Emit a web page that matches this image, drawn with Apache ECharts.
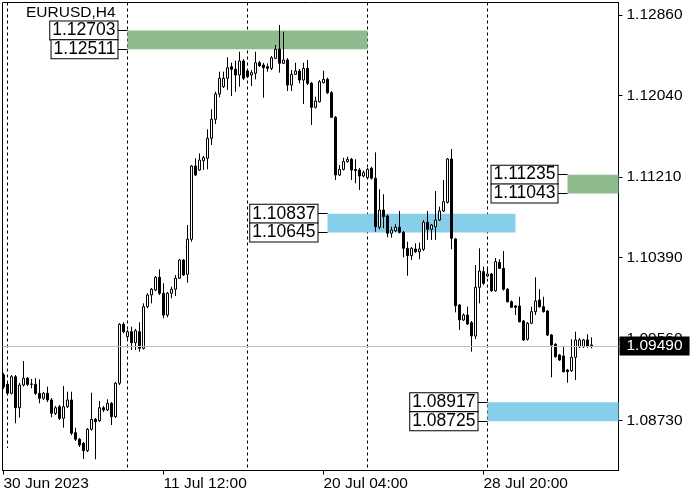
<!DOCTYPE html>
<html><head><meta charset="utf-8">
<script src="https://cdn.jsdelivr.net/npm/echarts@6/dist/echarts.min.js"></script>
<style>html,body{margin:0;padding:0;background:#fff}#c{width:700px;height:500px}</style>
</head><body><div id="c"></div>
<script>
// ---- data (EURUSD H4) ----
const openP = [1.09195,1.09100,1.09009,1.09178,1.08862,1.09093,1.09162,1.09100,1.09100,1.09009,
1.08958,1.09009,1.08941,1.08805,1.08872,1.08754,1.08872,1.08941,1.08608,1.08541,
1.08500,1.08425,1.08642,1.08744,1.08730,1.08862,1.08839,1.08907,1.08771,1.09111,
1.09711,1.09585,1.09636,1.09524,1.09636,1.09467,1.09890,1.10010,1.10060,1.10190,
1.10027,1.09806,1.10027,1.10068,1.10180,1.10366,1.10220,1.10577,1.11323,1.11282,
1.11377,1.11401,1.11605,1.11798,1.12056,1.12130,1.12216,1.12334,1.12307,1.12249,
1.12392,1.12290,1.12249,1.12267,1.12374,1.12351,1.12334,1.12317,1.12419,1.12514,
1.12368,1.12402,1.12147,1.12256,1.12290,1.12198,1.12317,1.12165,1.11920,1.11977,
1.12171,1.12205,1.12069,1.11819,1.11231,1.11289,1.11367,1.11391,1.11287,1.11282,
1.11221,1.11204,1.11299,1.11198,1.10699,1.10875,1.10814,1.10638,1.10664,1.10699,
1.10648,1.10485,1.10410,1.10478,1.10450,1.10475,1.10750,1.10678,1.10705,1.10773,
1.10865,1.10953,1.11394,1.10580,1.09908,1.09755,1.09806,1.09728,1.09592,1.10088,
1.10247,1.10203,1.10223,1.10053,1.10342,1.10281,1.10068,1.09941,1.09898,1.09898,
1.09745,1.09559,1.09722,1.09840,1.09959,1.09890,1.09847,1.09602,1.09508,1.09399,
1.09389,1.09246,1.09239,1.09375,1.09483,1.09483,1.09552,1.09501];
const highP = [1.09216,1.09124,1.09195,1.09195,1.09114,1.09338,1.09175,1.09154,1.09162,1.09151,
1.09022,1.09076,1.08961,1.08880,1.08890,1.09083,1.09025,1.09025,1.08659,1.08554,
1.08513,1.08656,1.09015,1.08757,1.08930,1.08880,1.08948,1.08920,1.09124,1.09722,
1.09732,1.09653,1.09687,1.09664,1.09732,1.09925,1.10027,1.10081,1.10203,1.10271,
1.10129,1.10040,1.10094,1.10213,1.10376,1.10376,1.10722,1.11333,1.11401,1.11452,
1.11425,1.11696,1.11900,1.12079,1.12283,1.12283,1.12429,1.12374,1.12395,1.12486,
1.12412,1.12310,1.12300,1.12486,1.12392,1.12371,1.12368,1.12443,1.12555,1.12758,
1.12690,1.12422,1.12300,1.12374,1.12310,1.12374,1.12402,1.12178,1.12028,1.12198,
1.12293,1.12222,1.12086,1.11832,1.11333,1.11407,1.11418,1.11404,1.11391,1.11302,
1.11277,1.11302,1.11316,1.11462,1.11086,1.11035,1.10829,1.10705,1.10729,1.10865,
1.10661,1.10552,1.10498,1.10536,1.10542,1.10773,1.10865,1.10732,1.11068,1.10909,
1.11180,1.11404,1.11496,1.10590,1.09918,1.09823,1.09890,1.09745,1.10315,1.10485,
1.10298,1.10298,1.10234,1.10386,1.10373,1.10457,1.10081,1.09954,1.09908,1.09992,
1.09755,1.09735,1.09890,1.10190,1.10068,1.09992,1.09857,1.09613,1.09518,1.09409,
1.09490,1.09256,1.09559,1.09636,1.09572,1.09562,1.09610,1.09579];
const lowP = [1.09053,1.08992,1.08997,1.08704,1.08761,1.09078,1.09083,1.09060,1.08992,1.08907,
1.08941,1.08920,1.08765,1.08788,1.08737,1.08659,1.08859,1.08584,1.08523,1.08462,
1.08340,1.08411,1.08630,1.08337,1.08717,1.08818,1.08829,1.08686,1.08757,1.09093,
1.09620,1.09552,1.09450,1.09450,1.09432,1.09455,1.09874,1.09925,1.10050,1.10010,
1.09772,1.09783,1.09976,1.09999,1.10172,1.10203,1.10135,1.10552,1.11221,1.11272,
1.11282,1.11289,1.11537,1.11750,1.12022,1.12117,1.12097,1.12035,1.12079,1.12130,
1.12198,1.12219,1.12137,1.12205,1.12331,1.12018,1.12283,1.12300,1.12412,1.12273,
1.12361,1.12086,1.12086,1.12249,1.12165,1.11954,1.12147,1.11740,1.11908,1.11969,
1.12163,1.12056,1.11811,1.11180,1.11221,1.11277,1.11358,1.11180,1.11147,1.11078,
1.11206,1.11196,1.11185,1.10654,1.10678,1.10689,1.10597,1.10593,1.10651,1.10636,
1.10393,1.10206,1.10366,1.10437,1.10373,1.10457,1.10570,1.10570,1.10570,1.10763,
1.10855,1.10941,1.10475,1.09833,1.09653,1.09745,1.09704,1.09432,1.09562,1.09925,
1.10111,1.10193,1.10043,1.10043,1.10274,1.10055,1.09933,1.09877,1.09806,1.09730,
1.09541,1.09546,1.09714,1.09806,1.09882,1.09831,1.09592,1.09172,1.09373,1.09338,
1.09221,1.09117,1.09226,1.09144,1.09470,1.09470,1.09475,1.09467];
const closeP = [1.09073,1.09009,1.09178,1.08862,1.09093,1.09162,1.09100,1.09104,1.09009,1.08958,
1.09009,1.08941,1.08805,1.08862,1.08754,1.08872,1.08941,1.08602,1.08541,1.08483,
1.08425,1.08642,1.08744,1.08720,1.08862,1.08839,1.08907,1.08771,1.09111,1.09711,
1.09636,1.09636,1.09524,1.09646,1.09467,1.09890,1.10010,1.10068,1.10190,1.10027,
1.09806,1.10027,1.10068,1.10180,1.10366,1.10213,1.10577,1.11323,1.11231,1.11384,
1.11407,1.11605,1.11798,1.12056,1.12216,1.12216,1.12324,1.12307,1.12249,1.12392,
1.12216,1.12232,1.12273,1.12374,1.12344,1.12324,1.12317,1.12425,1.12511,1.12368,
1.12402,1.12147,1.12256,1.12290,1.12198,1.12317,1.12165,1.11920,1.11985,1.12181,
1.12205,1.12069,1.11819,1.11231,1.11289,1.11367,1.11391,1.11282,1.11277,1.11221,
1.11255,1.11289,1.11198,1.10705,1.10875,1.10807,1.10638,1.10671,1.10699,1.10648,
1.10485,1.10410,1.10485,1.10450,1.10478,1.10750,1.10678,1.10722,1.10773,1.10865,
1.10959,1.11394,1.10587,1.09901,1.09755,1.09806,1.09714,1.09592,1.10088,1.10254,
1.10129,1.10223,1.10053,1.10349,1.10281,1.10068,1.09941,1.09884,1.09884,1.09738,
1.09552,1.09722,1.09840,1.09949,1.09890,1.09840,1.09602,1.09501,1.09381,1.09348,
1.09229,1.09229,1.09375,1.09552,1.09552,1.09552,1.09483,1.09490];

const xTickIdx = [0, 40, 80, 120];
const xTickLabels = ['30 Jun 2023', '11 Jul 12:00', '20 Jul 04:00', '28 Jul 20:00'];
const yTicks = [1.08730, 1.09560, 1.10390, 1.11210, 1.12040, 1.12860];
const separatorIdx = [1, 31, 61, 91, 121];         // weekly separators (bar index)
const separatorLow = [1.08452, null, null, null, null]; // null = down to the bottom
const zoneStart = [31, 81, 141, 121];              // bar index where each zone starts
const zoneEnd   = [91, 128, null, null];           // null = extends to right edge
const zoneHigh  = [1.12703, 1.10837, 1.11235, 1.08917];
const zoneLow   = [1.12511, 1.10645, 1.11043, 1.08725];
const zoneKind  = ['green', 'blue', 'green', 'blue'];
const lastPrice = 1.09490;

// ---- chart ----
const FONT = 'Liberation Sans';
const X_MIN = -0.25, X_MAX = 153.75;
const Y_MIN = 1.08223, Y_MAX = 1.129873;
const zoneColors = { green: '#8fbc8f', blue: '#87ceeb' };

const candles = openP.map((o, i) => [i, o, closeP[i], lowP[i], highP[i]]);

const zones = zoneStart.map((s, k) => [
  { coord: [s, zoneHigh[k]], itemStyle: { color: zoneColors[zoneKind[k]], opacity: 1 } },
  { coord: [zoneEnd[k] == null ? X_MAX : zoneEnd[k], zoneLow[k]] }
]);

const boxLabel = {
  show: true, position: 'start', distance: 0, color: '#000', fontFamily: FONT,
  fontSize: 17.5, lineHeight: 18, backgroundColor: '#fff', borderColor: '#000',
  borderWidth: 1, padding: [0, 2, 0, 2]
};
const connectors = [];
zoneStart.forEach((s, k) => {
  [zoneHigh[k], zoneLow[k]].forEach(p => {
    connectors.push([
      { coord: [s - 2.5, p], label: Object.assign({}, boxLabel, { formatter: p.toFixed(5) }),
        lineStyle: { color: '#000', type: 'solid', width: 1 } },
      { coord: [s, p] }
    ]);
  });
});

const priceLine = [
  { coord: [X_MIN, lastPrice],
    lineStyle: { color: '#c0c0c0', type: 'solid', width: 1 },
    label: {
      show: true, position: 'end', distance: 1, formatter: lastPrice.toFixed(5),
      color: '#fff', backgroundColor: '#000', padding: [2, 7, 1, 7],
      fontSize: 15.5, fontFamily: FONT
    } },
  { coord: [X_MAX, lastPrice] }
];

const separators = separatorIdx.map((i, k) => [
  { coord: [i, Y_MAX] },
  { coord: [i, separatorLow[k] == null ? Y_MIN : separatorLow[k]] }
]);

const chart = echarts.init(document.getElementById('c'), null, { renderer: 'canvas' });
chart.setOption({
  animation: false,
  backgroundColor: '#fff',
  title: {
    text: 'EURUSD,H4', left: 26, top: 5, padding: 0,
    textStyle: { fontFamily: FONT, fontSize: 15.5, fontWeight: 'normal', color: '#000' }
  },
  grid: {
    left: 2.5, top: 2.5, width: 616, height: 468,
    show: true, borderColor: '#000', borderWidth: 1, backgroundColor: '#fff',
    containLabel: false, outerBoundsMode: 'none'
  },
  xAxis: {
    type: 'value', min: X_MIN, max: X_MAX, silent: true, position: 'bottom',
    axisLine: { show: true, onZero: false, lineStyle: { color: '#000', width: 1 } },
    axisTick: { show: true, customValues: xTickIdx, length: 4, lineStyle: { color: '#000' } },
    axisLabel: {
      customValues: xTickIdx, align: 'left', margin: 5, color: '#000',
      fontFamily: FONT, fontSize: 15.5,
      formatter: v => { const k = xTickIdx.indexOf(Math.round(v)); return k >= 0 ? xTickLabels[k] : ''; }
    },
    splitLine: { show: false }
  },
  yAxis: {
    type: 'value', position: 'right', min: Y_MIN, max: Y_MAX, scale: true, silent: true,
    axisLine: { show: true, onZero: false, lineStyle: { color: '#000', width: 1 } },
    axisTick: { show: true, customValues: yTicks, length: 4, lineStyle: { color: '#000' } },
    axisLabel: {
      customValues: yTicks, margin: 8, color: '#000', fontFamily: FONT, fontSize: 15.5,
      formatter: v => v.toFixed(5)
    },
    splitLine: { show: false }
  },
  series: [
    {
      type: 'line', data: [], z: 1, silent: true,
      markLine: {
        z: 1, silent: true, symbol: ['none', 'none'], label: { show: false }, precision: 6,
        lineStyle: { color: '#000', type: [3, 3], width: 1 },
        data: separators
      }
    },
    {
      type: 'candlestick', data: candles, barWidth: 2, z: 2, silent: true,
      itemStyle: {
        color: '#fff', color0: '#000', borderColor: '#000', borderColor0: '#000',
        borderColorDoji: '#000', borderWidth: 1
      },
      markArea: { silent: true, z: 1.5, data: zones },
      markLine: {
        silent: true, symbol: ['none', 'none'], precision: 6,
        data: [priceLine].concat(connectors)
      }
    }
  ]
});
</script>
</body></html>
